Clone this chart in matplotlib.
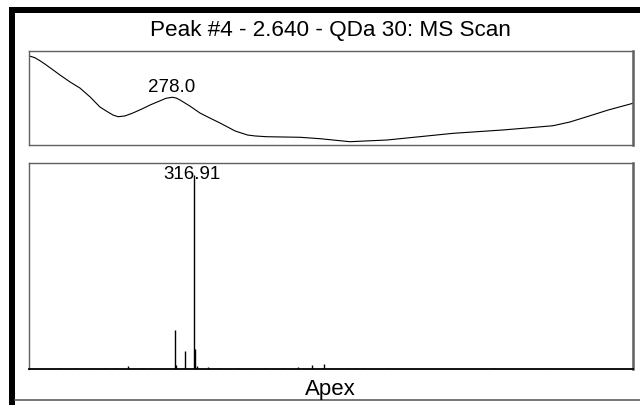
import matplotlib

matplotlib.use("Agg")
import matplotlib.pyplot as plt
from matplotlib.lines import Line2D
from matplotlib.patches import Rectangle

plt.rcParams["font.family"] = ["Liberation Sans", "DejaVu Sans"]

TITLE = "Peak #4 - 2.640 - QDa 30: MS Scan"
FOOTER = "Apex"

# UV spectrum at the peak apex (nm, relative absorbance)
wavelength = [240.1, 241.5, 242.9, 244.2, 246.0, 248.2, 250.9, 253.5, 256.2,
              258.8, 260.9, 262.3, 263.6, 265.4, 267.5, 270.0, 272.1, 274.7,
              276.3, 278.0, 279.0, 280.0, 282.6, 285.3, 287.9, 290.6, 294.6,
              297.9, 299.9, 303.0, 311.8, 317.1, 325.0, 334.8, 352.3, 365.6,
              371.0, 378.8, 383.3, 387.8, 393.4, 400.0]
absorbance = [0.947, 0.930, 0.897, 0.862, 0.810, 0.745, 0.670, 0.606, 0.511,
              0.404, 0.351, 0.318, 0.301, 0.309, 0.340, 0.385, 0.426, 0.470,
              0.497, 0.508, 0.500, 0.479, 0.415, 0.340, 0.287, 0.234, 0.149,
              0.106, 0.096, 0.088, 0.082, 0.067, 0.035, 0.053, 0.124, 0.160,
              0.178, 0.205, 0.245, 0.301, 0.372, 0.444]
uv_peak = 278.0

# MS scan (m/z, relative intensity %)
mz = [140.0, 160.0, 180.0, 200.0, 215.0, 230.3, 250.0, 260.0, 270.0,
      292.2, 293.5, 305.7, 316.91, 317.9, 320.7, 335.6, 351.4, 375.0,
      395.0, 410.0, 434.3, 454.0, 472.5, 488.3, 500.0, 510.0, 520.0,
      530.0, 540.0, 571.0, 713.0, 784.0]
intensity = [0.4, 0.4, 0.5, 0.4, 0.5, 1.5, 0.4, 0.5, 0.4,
             20.0, 2.0, 9.3, 100.0, 10.3, 1.5, 1.0, 0.5, 0.4,
             0.4, 0.4, 0.5, 1.0, 2.0, 2.5, 0.5, 0.5, 0.5,
             0.5, 0.5, 0.5, 0.5, 0.5]
base_peak = 316.91

FRAME_GRAY = "#606060"


def style_box(ax, bottom_color=FRAME_GRAY):
    ax.set_xticks([])
    ax.set_yticks([])
    for spine in ax.spines.values():
        spine.set_color(FRAME_GRAY)
        spine.set_linewidth(1.0)
    ax.spines["right"].set_linewidth(1.8)
    ax.spines["bottom"].set_color(bottom_color)


fig = plt.figure(figsize=(6.4, 4.05), dpi=100)

# outer panel border: heavy top/left edge, thin bottom rule
fig.add_artist(Rectangle((0.014, 0.968), 0.986, 0.015, transform=fig.transFigure,
                         color="black", lw=0))
fig.add_artist(Rectangle((0.014, 0.0), 0.0094, 0.983, transform=fig.transFigure,
                         color="black", lw=0))
fig.add_artist(Line2D([0.023, 1.0], [0.0123, 0.0123], transform=fig.transFigure,
                      color=FRAME_GRAY, lw=1.2))

ax_uv = fig.add_axes([0.0453, 0.642, 0.9438, 0.232])
ax_uv.plot(wavelength, absorbance, color="black", lw=0.8)
ax_uv.set_xlim(240, 400)
ax_uv.set_ylim(0, 1.0)
style_box(ax_uv)
peak_abs = absorbance[wavelength.index(uv_peak)]
ax_uv.annotate(f"{uv_peak:.1f}", (uv_peak, peak_abs), xytext=(-1, 5),
               textcoords="offset pixels", ha="center", va="baseline", fontsize=13.5)

ax_ms = fig.add_axes([0.0453, 0.0889, 0.9438, 0.5086])
ax_ms.vlines(mz, 0, intensity, color="black", lw=1.0)
ax_ms.set_xlim(100, 895)
ax_ms.set_ylim(0, 106.2)
style_box(ax_ms, bottom_color="black")
ax_ms.spines["bottom"].set_linewidth(1.3)
ax_ms.annotate(f"{base_peak:.2f}", (base_peak, intensity[mz.index(base_peak)]),
               xytext=(-2, -4), textcoords="offset pixels", ha="center",
               va="baseline", fontsize=13.5, annotation_clip=False)

fig.text(0.516, 0.911, TITLE, ha="center", va="baseline", fontsize=16.2)
fig.text(0.516, 0.0247, FOOTER, ha="center", va="baseline", fontsize=16)

fig.savefig("out.png", dpi=100)
plt.close(fig)
